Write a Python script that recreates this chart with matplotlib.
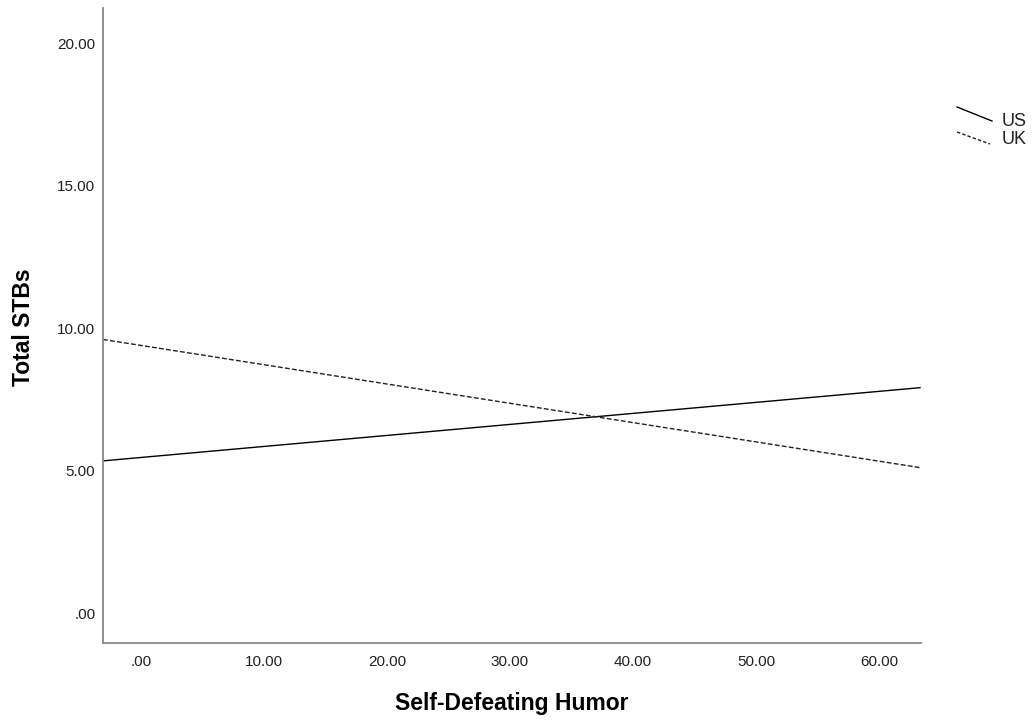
import matplotlib
matplotlib.use("Agg")
import matplotlib.pyplot as plt
from matplotlib.lines import Line2D

plt.rcParams['font.family'] = ['Liberation Sans', 'DejaVu Sans']

# data (line end points at the axis limits)
humor = [-3.1, 63.4]
us_stbs = [5.34, 7.91]
uk_stbs = [9.60, 5.10]
x_ticks = [0, 10, 20, 30, 40, 50, 60]
y_ticks = [0, 5, 10, 15, 20]


def fmt(v):
    s = f"{v:.2f}"
    return s[1:] if s.startswith("0") else s


fig = plt.figure(figsize=(10.36, 7.21), dpi=100)
ax = fig.add_axes([0.0994, 0.1082, 0.7893, 0.8807])

ax.plot(humor, us_stbs, color='black', lw=1.0, solid_capstyle='butt')
ax.plot(humor, uk_stbs, color='#222222', lw=1.0, dashes=(3.5, 1.6))

ax.set_xlim(humor[0], humor[1])
ax.set_ylim(-1.05, 21.23)
ax.set_xticks(x_ticks)
ax.set_xticklabels([fmt(v) for v in x_ticks])
ax.set_yticks(y_ticks)
ax.set_yticklabels([fmt(v) for v in y_ticks])
ax.tick_params(axis='both', length=0, labelsize=11, colors='#222222')
ax.tick_params(axis='x', pad=8.5)
ax.tick_params(axis='y', pad=5.5)

for side in ['top', 'right']:
    ax.spines[side].set_visible(False)
for side in ['left', 'bottom']:
    ax.spines[side].set_color('#888888')
    ax.spines[side].set_linewidth(1.3)

ax.set_xlabel('Self-Defeating Humor', fontsize=16.5, fontweight='bold', va='center')
ax.set_ylabel('Total STBs', fontsize=16.5, fontweight='bold', va='center')
ax.xaxis.set_label_coords(0.5, -0.096)
ax.yaxis.set_label_coords(-0.0966, 0.4976)

# SPSS style legend with slanted line samples
W, H = 1036, 721
fig.add_artist(Line2D([957 / W, 992 / W], [1 - 107 / H, 1 - 121 / H],
                      color='black', lw=1.0))
fig.add_artist(Line2D([957 / W, 990 / W], [1 - 132 / H, 1 - 144 / H],
                      color='#222222', lw=1.0, dashes=(2.5, 1.5)))
fig.text(1002 / W, 1 - 122 / H, 'US', fontsize=13, va='center', ha='left', color='#222222')
fig.text(1002 / W, 1 - 139 / H, 'UK', fontsize=13, va='center', ha='left', color='#222222')

fig.savefig('out.png', dpi=100)
